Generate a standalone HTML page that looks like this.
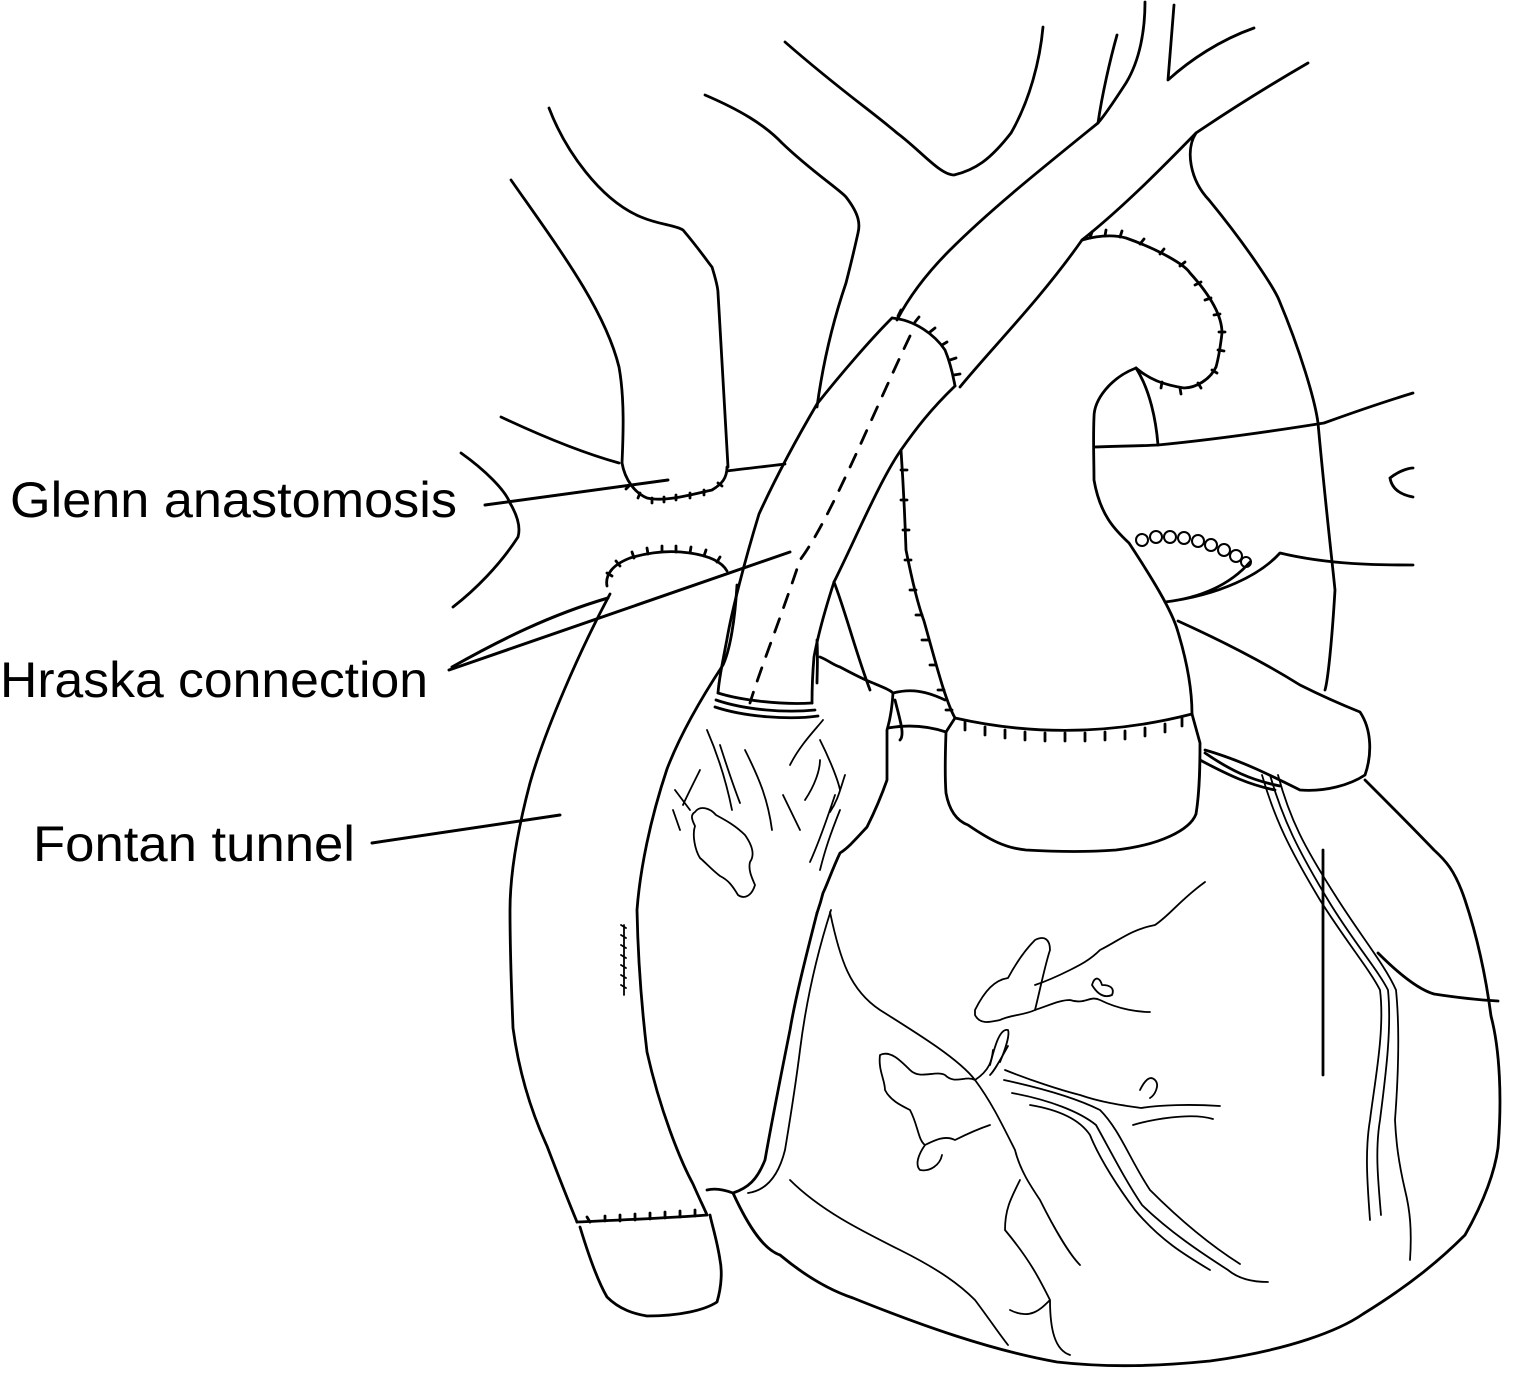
<!DOCTYPE html>
<html><head><meta charset="utf-8"><style>
html,body{margin:0;padding:0;background:#fff;}
svg{display:block;}
text{font-family:"Liberation Sans",sans-serif;font-size:50px;fill:#000;}
</style></head><body>
<svg width="1515" height="1378" viewBox="0 0 1515 1378" xmlns="http://www.w3.org/2000/svg">
<g fill="none" stroke="#000" stroke-width="2.8" stroke-linecap="round" stroke-linejoin="round">
<path d="M511,180 C560,250 605,310 619,367 C625,400 623,440 622,463"/>
<path d="M501,417 C550,440 590,455 619,463"/>
<path d="M549,108 C565,150 600,200 641,217 C660,225 675,225 683,230 C700,250 710,265 712,267 C716,280 718,290 718,293 C722,360 726,430 728,467"/>
<path d="M705,95 C740,110 765,125 782,143 C810,170 840,190 846,197 C860,215 860,225 858,233 C852,260 848,275 846,283 C830,330 822,370 817,407"/>
<path d="M785,42 C840,90 870,110 897,133 C920,150 940,175 954,175 C975,170 990,160 1011,133 C1030,100 1040,60 1043,27"/>
<path d="M1117,35 C1110,60 1102,95 1098,123"/>
<path d="M1145,2 C1145,30 1140,60 1126,83 C1115,100 1105,115 1098,123"/>
<path d="M1174,5 C1172,30 1170,55 1168,80 C1190,60 1220,40 1254,28"/>
<path d="M1308,63 C1270,85 1230,110 1196,133 C1160,170 1120,210 1082,240 C1040,300 990,350 960,387"/>
<path d="M1098,123 C1040,170 990,210 950,250 C930,270 910,295 897,320"/>
<path d="M1196,133 C1185,150 1190,180 1209,200 C1250,250 1275,290 1279,300 C1300,350 1315,400 1318,423 C1325,500 1332,560 1335,590 C1332,640 1328,680 1325,690"/>
<path d="M1082,240 C1100,235 1115,235 1126,238 C1160,250 1185,265 1190,273 C1210,295 1222,315 1222,333 C1220,350 1218,360 1216,367 C1210,380 1195,388 1184,388 C1165,385 1150,380 1136,368"/>
<path d="M1090,238l2,-6 M1105,236l1,-6 M1120,237l2,-6 M1140,244l4,-5 M1160,254l4,-5 M1180,266l5,-4 M1195,285l6,-3 M1205,300l6,-2 M1214,315l6,-1 M1219,332l6,0 M1218,350l6,1 M1212,370l5,3 M1198,383l3,5 M1180,388l1,6 M1162,382l-1,6"/>
<path d="M1136,368 C1110,378 1094,400 1094,417 C1093,440 1094,460 1094,480 C1100,515 1115,530 1129,543 C1150,575 1172,610 1178,632 C1188,665 1192,690 1192,714"/>
<path d="M1136,368 C1150,390 1156,420 1158,445"/>
<path d="M1094,447 C1120,446 1140,446 1158,445 C1210,440 1280,430 1324,423 C1360,410 1390,400 1413,393"/>
<path d="M1390,478 C1400,470 1410,468 1413,468 M1390,478 C1392,490 1402,495 1413,497"/>
<g stroke-width="2">
<circle cx="1142" cy="540" r="6"/><circle cx="1156" cy="537" r="6"/><circle cx="1170" cy="537" r="6"/><circle cx="1184" cy="538" r="6"/><circle cx="1198" cy="541" r="6"/><circle cx="1211" cy="545" r="6"/><circle cx="1224" cy="550" r="6"/><circle cx="1236" cy="556" r="6"/><circle cx="1246" cy="562" r="5"/>
</g>
<path d="M1250,562 C1230,585 1200,598 1165,602 C1220,595 1260,575 1280,553 C1330,565 1380,565 1413,565"/>
<path d="M1178,621 C1220,640 1260,660 1300,685 C1330,700 1350,708 1360,712 C1372,730 1372,755 1365,775 C1350,785 1325,792 1300,790 C1270,775 1240,760 1205,750"/>
<path d="M901,450 C903,480 905,520 906,550 C912,580 918,605 924,621 C935,660 945,700 955,718"/>
<path d="M901,470h6 M901,500h6 M903,530h6 M905,560h6 M910,590h6 M916,615h6 M922,640h6 M930,665h6 M938,690h6 M946,710h6"/>
<path d="M955,718 C1030,735 1110,735 1192,714"/>
<path d="M965,722v8 M985,727v8 M1005,730v8 M1025,732v8 M1045,733v8 M1065,733v8 M1085,733v8 M1105,732v8 M1125,731v8 M1145,728v8 M1165,724v8 M1182,718v8"/>
<path d="M946,732 C945,760 945,780 946,793 C950,815 960,822 968,825 C990,840 1005,848 1026,850 C1060,852 1090,852 1116,850 C1160,845 1190,830 1196,814 C1200,790 1200,760 1200,743 L1192,714"/>
<path d="M955,718 L946,732"/>
<path d="M892,318 C870,340 840,375 817,404 C790,450 770,490 759,514 C745,560 732,610 727,639 C722,665 719,680 718,693"/>
<path d="M955,386 C930,410 915,430 901,450 C880,480 855,540 834,582 C825,610 818,635 814,657 C812,680 812,695 812,703"/>
<path d="M892,318 C915,320 935,335 945,350 C950,362 953,375 955,386"/>
<path d="M898,316l3,-6 M915,322l4,-5 M930,332l5,-4 M942,345l5,-3 M950,360l6,-2 M954,375l6,-1"/>
<path d="M910,336 C870,420 830,520 800,560 C780,620 760,670 750,703" stroke-dasharray="14,12"/>
<path d="M718,693 C740,700 780,705 812,703 M716,700 C745,710 785,713 815,710 M715,707 C745,717 790,720 818,716"/>
<path d="M622,463 C625,480 635,493 647,498 C665,502 690,495 712,490 C722,484 727,478 727,467"/>
<path d="M630,485l-4,4 M640,493l-2,5 M652,498v5 M664,497v5 M676,495v5 M690,493v5 M704,490v5 M718,483l4,3"/>
<path d="M727,471 C750,468 770,466 785,464"/>
<path d="M461,453 C485,470 505,490 510,503 C520,520 520,530 518,537 C500,565 475,590 453,607"/>
<path d="M607,586 C605,575 612,565 630,558 C650,552 670,550 690,553 C710,556 722,562 727,571"/>
<path d="M612,576l-5,-3 M620,566l-4,-5 M634,558l-2,-6 M648,554l-1,-6 M662,552v-6 M676,552v-6 M690,553l1,-6 M704,556l2,-6 M717,562l3,-5"/>
<path d="M485,505 L668,480" stroke-width="3"/>
<path d="M449,670 L790,552" stroke-width="3"/>
<path d="M452,667 C500,640 550,615 608,598" stroke-width="3"/>
<path d="M372,843 L560,815" stroke-width="3"/>
<path d="M610,594 C580,650 545,730 530,783 C515,840 510,880 510,910 C510,960 512,1000 513,1028 C520,1080 535,1120 547,1146 C560,1180 570,1205 577,1222"/>
<path d="M737,585 C735,620 730,650 723,665 C700,700 680,735 667,769 C650,820 640,870 637,910 C638,960 642,1010 647,1052 C660,1110 680,1160 693,1184 C700,1200 705,1210 707,1215"/>
<path d="M577,1222 C620,1220 670,1218 707,1215"/>
<path d="M590,1222l-3,-5 M605,1221v-5 M620,1221v-6 M635,1220v-6 M650,1219v-6 M665,1218v-6 M680,1217v-6 M695,1216v-6"/>
<path d="M580,1227 C590,1260 600,1285 607,1297 C620,1310 635,1314 647,1316 C680,1316 705,1310 717,1302 C722,1285 722,1270 720,1260 C717,1240 712,1225 710,1215"/>
<path d="M621,925 l5,3 M621,935l5,3 M621,945l5,3 M621,955l5,3 M621,965l5,3 M621,975l5,3 M621,985l5,3 M624,925 L624,995" stroke-width="1.8"/>
<path d="M817,640 C818,660 817,675 817,683 M820,657 C828,660 833,665 840,667 C855,675 865,680 873,683 C885,688 890,690 893,693 C892,710 890,720 887,730 C887,750 887,765 887,780 C880,800 873,815 867,827 C855,840 848,848 840,853 C832,870 827,885 823,893 C820,905 818,910 817,913"/>
<path d="M834,582 C845,610 855,650 870,690" />
<path d="M893,693 C905,690 920,688 945,700 M888,728 C905,725 925,725 946,732 M895,700 C900,720 905,735 900,740"/>
<g stroke-width="1.8">
<path d="M707,730 C720,760 728,790 732,810 M720,745 C728,770 735,790 740,803 M745,750 C760,780 768,800 772,830 M700,770 C690,790 685,800 683,805 M675,790 L690,810 M673,810 L680,830 M790,765 C800,745 815,730 823,720 M820,740 C830,760 838,780 840,790 M805,800 C815,785 820,770 820,760 M845,775 C840,790 838,800 830,812 M835,795 C830,810 820,840 810,862 M840,810 C830,835 825,850 820,870 M783,795 L800,830"/>
<path d="M695,812 C700,805 710,808 716,815 C725,820 735,825 745,835 C752,845 755,855 750,862 C748,870 752,878 755,885 C752,895 745,900 738,895 C732,885 728,880 720,876 C712,870 705,862 700,858 C695,850 692,835 695,826 C692,820 690,815 695,812 Z"/>
</g>
<path d="M707,1190 C715,1188 725,1190 733,1193 C750,1230 765,1250 780,1255 C810,1280 835,1292 853,1298 C920,1325 990,1350 1057,1362 C1110,1368 1160,1366 1210,1361 C1290,1350 1340,1330 1363,1314 C1410,1285 1440,1260 1465,1235 C1485,1200 1495,1170 1498,1148 C1502,1100 1500,1050 1491,1016 C1485,970 1475,930 1465,900 C1455,870 1445,860 1434,850 C1410,825 1385,800 1365,780"/>
<path d="M1205,753 C1230,770 1250,780 1280,786 M1200,760 C1230,776 1250,785 1275,790"/>
<path d="M1323,850 C1323,930 1323,1010 1323,1075"/>
<path d="M1378,953 C1400,975 1420,990 1434,994 C1460,998 1480,1000 1498,1001"/>
<g stroke-width="1.8">
<path d="M1262,775 C1275,820 1290,850 1320,900 C1345,940 1370,970 1380,990 C1385,1030 1375,1080 1370,1120 C1365,1150 1367,1180 1370,1220"/>
<path d="M1270,775 C1283,820 1298,850 1328,900 C1352,940 1378,970 1388,990 C1392,1030 1385,1080 1380,1120 C1375,1150 1378,1180 1381,1215"/>
<path d="M1278,775 C1290,820 1305,848 1335,895 C1360,935 1385,965 1396,990 C1400,1030 1398,1080 1395,1120 C1396,1140 1398,1160 1405,1190 C1410,1210 1412,1230 1410,1260"/>
</g>
<path d="M817,913 C805,960 795,1000 790,1030 C780,1080 772,1120 765,1160 C757,1180 748,1188 733,1193"/>
<path d="M831,910 C815,960 805,1010 800,1050 C795,1090 790,1120 785,1150 C780,1170 770,1190 748,1193" stroke-width="1.8"/>
<path d="M830,912 C840,960 850,990 880,1010 C920,1035 960,1060 975,1080 C990,1100 1000,1120 1015,1150 C1020,1170 1030,1185 1040,1200 C1055,1230 1070,1255 1080,1265" stroke-width="1.8"/>
<path d="M790,1180 C820,1210 860,1230 900,1250 C940,1270 960,1285 975,1300 C990,1320 1000,1335 1008,1345" stroke-width="1.8"/>
<path d="M1020,1180 C1010,1200 1005,1210 1005,1230 C1030,1260 1040,1280 1050,1300 C1050,1330 1055,1350 1070,1355 M1050,1300 C1040,1310 1030,1320 1010,1310" stroke-width="1.8"/>
<g stroke-width="1.8">
<path d="M1004,1080 C1050,1090 1080,1100 1100,1110 C1120,1130 1130,1160 1150,1190 C1180,1220 1210,1245 1240,1264"/>
<path d="M1012,1093 C1050,1100 1080,1112 1096,1125 C1110,1150 1125,1180 1142,1205 C1170,1232 1200,1252 1228,1270 C1240,1280 1255,1282 1268,1282"/>
<path d="M1030,1105 C1060,1110 1080,1120 1090,1135 C1100,1160 1120,1190 1135,1210 C1160,1240 1185,1255 1210,1270"/>
<path d="M1133,1125 C1150,1120 1190,1112 1213,1119 M1005,1070 C1030,1080 1060,1090 1080,1095 C1100,1102 1120,1105 1141,1108 C1160,1105 1190,1104 1220,1106"/>
<path d="M1008,1046 C1000,1060 995,1070 990,1075"/>
<path d="M1000,1062 C1005,1050 1010,1035 1008,1030 C1000,1028 995,1045 990,1065"/>
<path d="M880,1055 C890,1050 900,1060 910,1070 C920,1080 935,1070 945,1075 C955,1085 965,1075 975,1080 C990,1070 992,1060 993,1050 M880,1055 C878,1070 885,1080 885,1090 C890,1100 900,1105 910,1110 C918,1125 918,1140 925,1145 C935,1140 945,1135 955,1140 C965,1135 975,1130 990,1125 M925,1145 C918,1155 915,1165 920,1170 C930,1172 940,1165 942,1155"/>
<path d="M975,1010 C985,990 995,980 1008,978 C1015,965 1025,950 1035,940 C1045,935 1050,940 1050,950 C1045,965 1040,990 1035,1010 C1025,1015 1010,1015 1000,1020 C990,1022 980,1025 975,1015 Z"/>
<path d="M1035,985 C1050,980 1060,975 1070,970 C1080,965 1090,960 1100,950 C1120,940 1130,930 1155,925 C1170,915 1180,900 1205,882 M1035,1010 C1050,1005 1060,1000 1070,1000 C1085,1005 1090,995 1100,1000 C1120,1010 1140,1012 1150,1012"/>
<path d="M1092,985 C1095,975 1100,978 1102,985 C1110,985 1115,988 1112,995 C1105,998 1098,995 1092,985 Z"/>
<path d="M1140,1090 C1145,1080 1150,1075 1155,1080 C1160,1085 1155,1095 1150,1098"/>
</g>
</g>
<text x="10" y="517" textLength="447" lengthAdjust="spacingAndGlyphs">Glenn anastomosis</text>
<text x="0" y="697" textLength="428" lengthAdjust="spacingAndGlyphs">Hraska connection</text>
<text x="33" y="861" textLength="322" lengthAdjust="spacingAndGlyphs">Fontan tunnel</text>
</svg>
</body></html>
